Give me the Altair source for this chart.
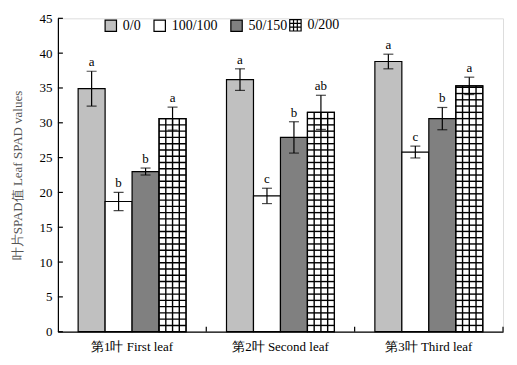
import altair as alt
import numpy as np
import pandas as pd

categories = ["第1叶 First leaf", "第2叶 Second leaf", "第3叶 Third leaf"]
series = ["0/0", "100/100", "50/150", "0/200"]
colors = ["#c0c0c0", "#ffffff", "#808080", "#ffffff"]

values = {
    "0/0":     [34.9, 36.2, 38.8],
    "100/100": [18.7, 19.5, 25.8],
    "50/150":  [23.0, 27.9, 30.6],
    "0/200":   [30.6, 31.5, 35.3],
}
errors = {
    "0/0":     [2.5, 1.55, 1.05],
    "100/100": [1.3, 1.1, 0.85],
    "50/150":  [0.5, 2.25, 1.6],
    "0/200":   [1.65, 2.45, 1.25],
}
letters = {
    "0/0":     ["a", "a", "a"],
    "100/100": ["b", "c", "c"],
    "50/150":  ["b", "b", "b"],
    "0/200":   ["a", "ab", "a"],
}
y_ticks = [0, 5, 10, 15, 20, 25, 30, 35, 40, 45]

rows = []
for s in series:
    for i, c in enumerate(categories):
        v, e = values[s][i], errors[s][i]
        rows.append(dict(cat=c, series=s, value=v, err=e, lo=v - e, hi=v + e,
                         letter=letters[s][i]))
df = pd.DataFrame(rows)

# hatch (grid) pattern for the 0/200 bars
grid_rows = []
for i, c in enumerate(categories):
    v = values["0/200"][i]
    for lvl in np.arange(0.9, v, 0.9):
        grid_rows.append(dict(cat=c, series="0/200", level=float(lvl)))
grid_df = pd.DataFrame(grid_rows)
pat_df = df[df.series == "0/200"]

FONT = "Liberation Serif"
W, H = 446, 314
PO = 0.75
BAR_W = W / 3 / (4 + 2 * PO)
# pixel distance from the band centre to the centre of the 4th (0/200) bar
PAT_SHIFT = (PO + 3.5 - (4 + 2 * PO) / 2) * BAR_W

xscale = alt.Scale(domain=categories, paddingInner=0, paddingOuter=0)
oscale = alt.Scale(domain=series, paddingInner=0, paddingOuter=PO)
yscale = alt.Scale(domain=[0, 45], nice=False)
xaxis = alt.Axis(title=None, ticks=False, labelFont=FONT, labelFontSize=13,
                 labelColor="black", labelPadding=9, labelAngle=0,
                 domainColor="black", domainWidth=1.2)
yaxis = alt.Axis(title="叶片SPAD值 Leaf SPAD values", values=y_ticks, ticks=False,
                 labelFont=FONT, labelFontSize=13, labelColor="black",
                 labelPadding=6, grid=False, domainColor="black", domainWidth=1.2,
                 titleFont=FONT, titleFontSize=13, titleFontWeight="normal",
                 titleColor="#555555", titlePadding=14)

X = alt.X("cat:N", scale=xscale, axis=xaxis)
XO = alt.XOffset("series:N", scale=oscale)

grid_path = "M-1,-1H1V1H-1ZM-0.333,-1V1M0.333,-1V1M-1,-0.333H1M-1,0.333H1"

legend_common = dict(title=None, orient="none", direction="horizontal", legendY=0,
                     padding=0, symbolSize=130, symbolStrokeColor="black",
                     symbolStrokeWidth=1.2, symbolOpacity=1, labelFont=FONT,
                     labelFontSize=14, labelColor="black", labelOffset=5,
                     columnPadding=10)

bars = alt.Chart(df).mark_bar(stroke="black", strokeWidth=1.2).encode(
    x=X, xOffset=XO,
    y=alt.Y("value:Q", scale=yscale, axis=yaxis),
    color=alt.Color("series:N", scale=alt.Scale(domain=series, range=colors),
                    legend=alt.Legend(values=series[:3], legendX=46,
                                      symbolType="square", **legend_common)),
)

# legend entry for the grid-patterned series (no visible marks)
pattern_legend = alt.Chart(pd.DataFrame({"pattern": ["0/200"]})).mark_point(
    filled=False, color="black").encode(
    shape=alt.Shape("pattern:N", scale=alt.Scale(domain=["0/200"], range=[grid_path]),
                    legend=alt.Legend(legendX=231, symbolFillColor="white",
                                      **legend_common)),
).transform_filter("false")

hlines = alt.Chart(grid_df).mark_tick(color="black", size=BAR_W, thickness=1.4,
                                      opacity=1, orient="horizontal").encode(
    x=X, xOffset=XO, y=alt.Y("level:Q", scale=yscale, axis=yaxis),
)

vlines = [
    alt.Chart(pat_df).mark_rule(color="black", strokeWidth=1.4,
                                xOffset=PAT_SHIFT + off).encode(
        x=X, y=alt.Y("value:Q", scale=yscale, axis=yaxis), y2=alt.Y2Datum(0),
    )
    for off in (-BAR_W / 4, 0, BAR_W / 4)
]

outline = alt.Chart(pat_df).mark_bar(fillOpacity=0, stroke="black", strokeWidth=1.2).encode(
    x=X, xOffset=XO, y=alt.Y("value:Q", scale=yscale, axis=yaxis),
)

err_rule = alt.Chart(df).mark_rule(color="black", strokeWidth=1.2).encode(
    x=X, xOffset=XO, y=alt.Y("lo:Q", scale=yscale, axis=yaxis), y2="hi:Q",
)
cap_lo = alt.Chart(df).mark_tick(color="black", size=10, thickness=1.2,
                                 orient="horizontal").encode(
    x=X, xOffset=XO, y=alt.Y("lo:Q", scale=yscale, axis=yaxis),
)
cap_hi = alt.Chart(df).mark_tick(color="black", size=10, thickness=1.2,
                                 orient="horizontal").encode(
    x=X, xOffset=XO, y=alt.Y("hi:Q", scale=yscale, axis=yaxis),
)
labels = alt.Chart(df).mark_text(font=FONT, fontSize=13, fill="black",
                                 baseline="alphabetic", dy=-5).encode(
    x=X, xOffset=XO, y=alt.Y("hi:Q", scale=yscale, axis=yaxis), text="letter:N",
)

tick_df = pd.DataFrame({"t": y_ticks})
ytick_marks = alt.Chart(tick_df).mark_rule(color="black", strokeWidth=1.2).encode(
    y=alt.Y("t:Q", scale=yscale, axis=yaxis), x=alt.value(0), x2=alt.value(5),
)
cat_df = pd.DataFrame({"cat": categories})
xtick_marks = alt.Chart(cat_df).mark_rule(color="black", strokeWidth=1.2).encode(
    x=alt.X("cat:N", scale=xscale, axis=xaxis, bandPosition=1),
    y=alt.value(H), y2=alt.value(H - 5),
)

chart = alt.layer(bars, pattern_legend, hlines, *vlines, outline, err_rule, cap_lo,
                  cap_hi, labels, ytick_marks, xtick_marks).properties(
    width=W, height=H,
    autosize=alt.AutoSizeParams(type="none"),
    padding={"left": 50, "top": 10, "right": 6, "bottom": 30},
).configure_view(stroke=None).configure(background="white")

chart.save("out.html", embed_options={"renderer": "svg", "actions": False})
